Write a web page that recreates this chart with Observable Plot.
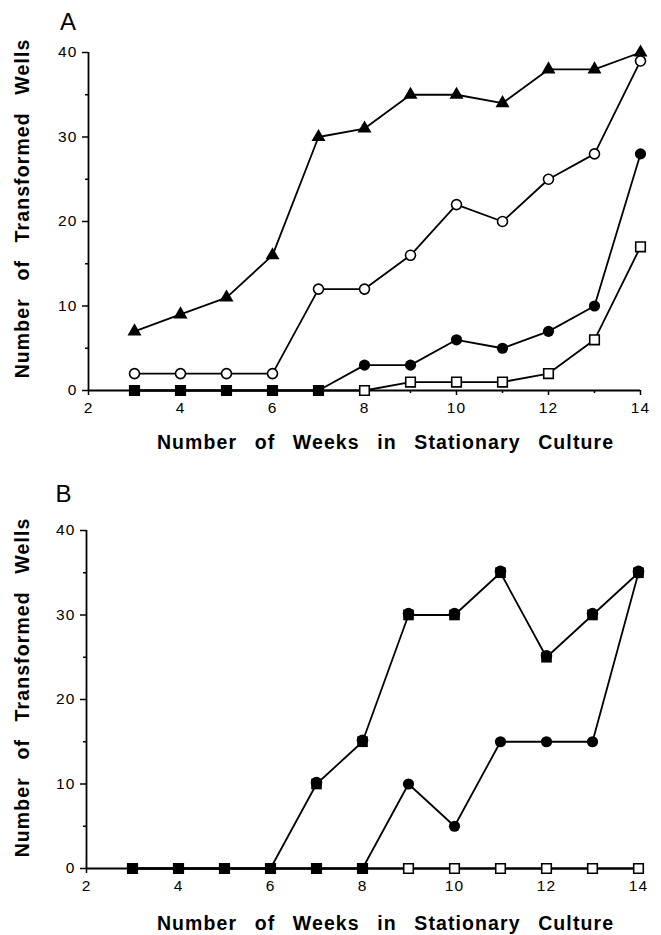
<!DOCTYPE html>
<html>
<head>
<meta charset="utf-8">
<script src="https://cdn.jsdelivr.net/npm/d3@7"></script>
<script src="https://cdn.jsdelivr.net/npm/@observablehq/plot@0.6"></script>
<style>
  html, body { margin: 0; padding: 0; background: #fff; }
  #chart { width: 661px; display: flex; flex-direction: column; }
  #chart svg { display: block; }
  #chart svg text { word-spacing: 11px; letter-spacing: 1.1px; }
</style>
</head>
<body>
<div id="chart"></div>
<script>
// ---------- data ----------
const weeks = [3, 4, 5, 6, 7, 8, 9, 10, 11, 12, 13, 14];

// Panel A
const aTriangle     = [7, 9, 11, 16, 30, 31, 35, 35, 34, 38, 38, 40];
const aOpenCircle   = [2, 2, 2, 2, 12, 12, 16, 22, 20, 25, 28, 39];
const aFilledCircle = [0, 0, 0, 0, 0, 3, 3, 6, 5, 7, 10, 28];
const aOpenSquare   = [0, 0, 0, 0, 0, 0, 1, 1, 1, 2, 6, 17];
const aFilledSquare = [0, 0, 0, 0, 0, null, null, null, null, null, null, null];

// Panel B
const bFilledTriangle = [0, 0, 0, 0, 10, 15, 30, 30, 35, 25, 30, 35];
const bFilledCircle   = [0, 0, 0, 0, 0, 0, 10, 5, 15, 15, 15, 35];
const bOpenSquare     = [0, 0, 0, 0, 0, 0, 0, 0, 0, 0, 0, 0];
const bFilledSquare   = [0, 0, 0, 0, 0, 0, null, null, null, null, null, null];

const xTicks = [2, 4, 6, 8, 10, 12, 14];
const xMinorTicks = [3, 5, 7, 9, 11, 13];
const yTicks = [0, 10, 20, 30, 40];
const yMinorTicks = [5, 15, 25, 35];

const xTitle = "Number of Weeks in Stationary Culture";
const yTitle = "Number of Transformed Wells";

function rows(values, series) {
  return weeks.map((w, i) => ({week: w, value: values[i], series}));
}

const FONT = "'Liberation Sans', Arial, Helvetica, sans-serif";

function axes() {
  return [
    Plot.ruleX([2], {strokeWidth: 1.8}),
    Plot.ruleY([0], {strokeWidth: 1.8}),
    Plot.axisX({ticks: xTicks, tickSize: 5, tickPadding: 6, strokeWidth: 1.5, label: null, tickFormat: d => d}),
    Plot.axisX({ticks: xMinorTicks, tickSize: 3, text: null, strokeWidth: 1.5, label: null}),
    Plot.axisY({ticks: yTicks, tickSize: 6, tickPadding: 5, strokeWidth: 1.5, label: null}),
    Plot.axisY({ticks: yMinorTicks, tickSize: 3, text: null, strokeWidth: 1.5, label: null})
  ];
}

function titles(panel, p) {
  return [
    Plot.text([panel], {text: d => d, frameAnchor: "top-left", dx: p.ldx, dy: p.ldy, fontSize: 24, textAnchor: "middle", lineAnchor: "middle"}),
    Plot.text([yTitle], {text: d => d, frameAnchor: "left", rotate: -90, dx: p.ydx, dy: p.ydy, fontSize: 19.5, fontWeight: "bold", textAnchor: "middle", lineAnchor: "middle"}),
    Plot.text([xTitle], {text: d => d, frameAnchor: "bottom", dx: p.xdx, dy: p.xdy, fontSize: 19.5, fontWeight: "bold", textAnchor: "middle", lineAnchor: "middle"})
  ];
}

const lineOpts = {x: "week", y: "value", z: "series", stroke: "black", strokeWidth: 1.8};
const pos = {x: "week", y: "value"};

// ---------- Panel A ----------
const aTri = rows(aTriangle, "tri");
const aOC = rows(aOpenCircle, "oc");
const aFC = rows(aFilledCircle, "fc");
const aOS = rows(aOpenSquare, "os");
const aFS = rows(aFilledSquare, "fs");

const plotA = Plot.plot({
  width: 661, height: 465,
  marginLeft: 88, marginRight: 21, marginTop: 52, marginBottom: 75,
  x: {domain: [2, 14]},
  y: {domain: [0, 40]},
  style: {fontFamily: FONT, fontSize: "15.5px", color: "black", background: "white"},
  marks: [
    ...axes(),
    Plot.line([...aTri, ...aOC, ...aFC, ...aOS], lineOpts),
    Plot.dot(aOS, {...pos, symbol: "square", r: 5.4, fill: "white", stroke: "black", strokeWidth: 1.6}),
    Plot.dot(aFC, {...pos, symbol: "circle", r: 5.6, fill: "black"}),
    Plot.dot(aFS, {...pos, symbol: "square", r: 6.2, fill: "black"}),
    Plot.dot(aTri, {...pos, symbol: "triangle", r: 5.2, fill: "black"}),
    Plot.dot(aOC, {...pos, symbol: "circle", r: 5, fill: "white", stroke: "black", strokeWidth: 1.6}),
    ...titles("A", {ldx: -20, ldy: -30, ydx: -66, ydy: -13, xdx: 21, xdy: 52})
  ]
});

// ---------- Panel B ----------
const bFT = rows(bFilledTriangle, "ft");
const bFC = rows(bFilledCircle, "fc");
const bOS = rows(bOpenSquare, "os");
const bFS = rows(bFilledSquare, "fs");

const plotB = Plot.plot({
  width: 661, height: 470,
  marginLeft: 86, marginRight: 23, marginTop: 65, marginBottom: 67,
  x: {domain: [2, 14]},
  y: {domain: [0, 40]},
  style: {fontFamily: FONT, fontSize: "15.5px", color: "black", background: "white"},
  marks: [
    ...axes(),
    Plot.line([...bOS, ...bFC, ...bFT], lineOpts),
    Plot.dot(bOS, {...pos, symbol: "square", r: 5.4, fill: "white", stroke: "black", strokeWidth: 1.6}),
    Plot.dot(bFC, {...pos, symbol: "circle", r: 5.6, fill: "black"}),
    Plot.dot(bFT, {...pos, symbol: "square", r: 6, fill: "black"}),
    Plot.dot(bFT, {...pos, symbol: "circle", r: 5.8, fill: "black", dy: -1.5, filter: d => d.value > 0}),
    Plot.dot(bFS, {...pos, symbol: "square", r: 6.2, fill: "black"}),
    ...titles("B", {ldx: -22.5, ldy: -36.5, ydx: -64, ydy: -12, xdx: 23, xdy: 55})
  ]
});

document.getElementById("chart").append(plotA, plotB);
</script>
</body>
</html>
